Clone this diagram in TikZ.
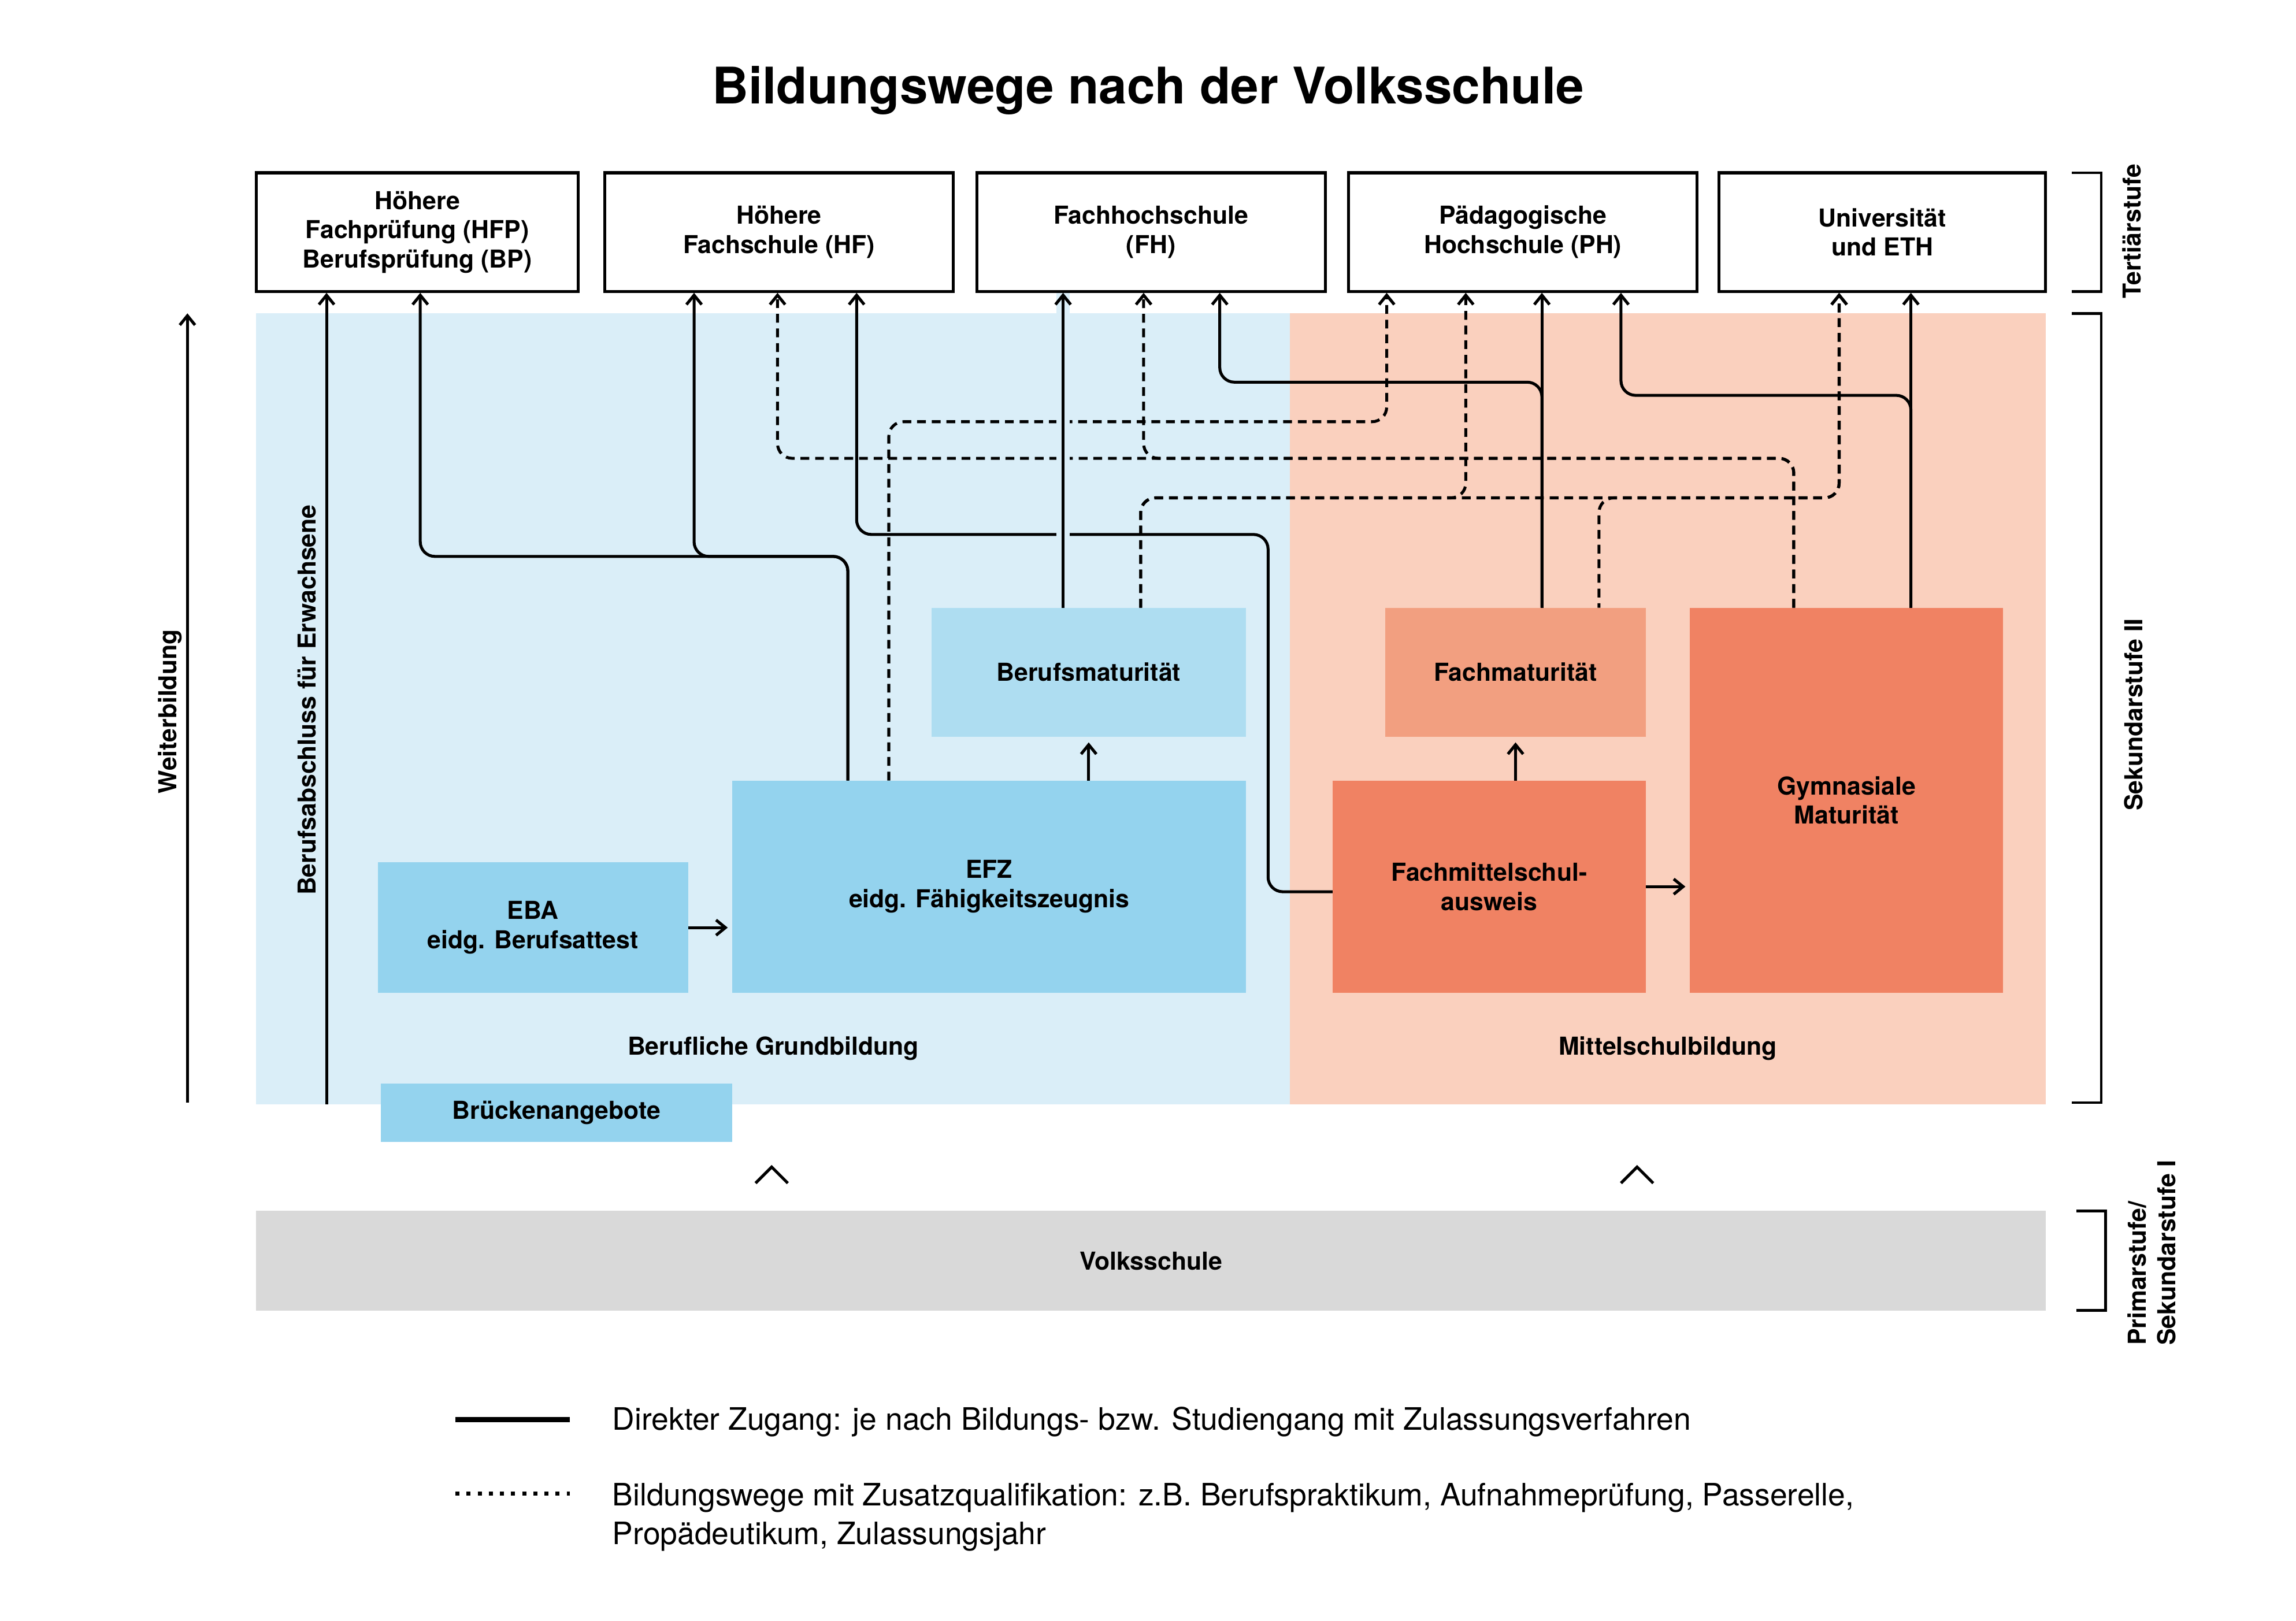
\documentclass[tikz,border=0pt]{standalone}
\usepackage{fontspec}
\setmainfont{TeX Gyre Heros}
\setsansfont{TeX Gyre Heros}
\usetikzlibrary{positioning,arrows.meta}
\definecolor{blue100}{HTML}{DAEEF8}
\definecolor{blue200}{HTML}{AEDDF1}
\definecolor{blue300}{HTML}{94D3EE}
\definecolor{clay100}{HTML}{FAD0BE}
\definecolor{clay300}{HTML}{F29F80}
\definecolor{clay400}{HTML}{F08263}
\definecolor{grey200}{HTML}{D9D9D9}
\newcommand{\lblfont}{\sffamily\bfseries\fontsize{12}{14.2}\selectfont}
\tikzset{
  tert/.style  ={draw=black, line width=0.5mm, fill=white, align=center,
                 inner sep=0pt, minimum height=20.25mm, font=\lblfont},
  fld/.style   ={inner sep=0pt, outer sep=0pt, align=center, font=\lblfont},
  ar/.style    ={-{Straight Barb[length=1.6mm,width=2.6mm]}, line width=0.5mm,
                 rounded corners=2.5mm},
  ard/.style   ={ar, dash pattern=on 1.5mm off 1mm},
  halo/.style  ={preaction={draw=#1, line width=2.25mm, -}},
  brk/.style   ={line width=0.45mm},
  side/.style  ={rotate=90, font=\lblfont, inner sep=0pt},
  leg/.style   ={font=\sffamily\fontsize{15}{18.8}\selectfont, align=left,
                 inner sep=0pt}
}

\begin{document}
\begin{tikzpicture}[x=0.25mm, y=-0.25mm]
\useasboundingbox (0,0) rectangle (1568,1107);
\node[font=\sffamily\bfseries\fontsize{24.5}{28}\selectfont, anchor=base]
  (title) at (784,71) {Bildungswege nach der Volksschule};

% Hintergruende
\fill[blue100] (175,214) rectangle (881,754);
\fill[clay100] (881,214) rectangle (1397,754);

% Tertiaerstufe
\node[tert, minimum width=55mm]    (hfp) at (285,158.5)
  {Höhere\\Fachprüfung (HFP)\\Berufsprüfung (BP)};
\node[tert, minimum width=59.5mm]  (hf)  at (532,158.5) {Höhere\\Fachschule (HF)};
\node[tert, minimum width=59.5mm]  (fh)  at (786,158.5) {Fachhochschule\\(FH)};
\node[tert, minimum width=59.5mm]  (ph)  at (1040,158.5) {Pädagogische\\Hochschule (PH)};
\node[tert, minimum width=55.75mm] (uni) at (1285.5,158.5) {Universität\\und ETH};

% Sekundarstufe II
\node[fld, fill=blue200, minimum width=53.75mm, minimum height=22mm]
  (bm) at (743.5,459) {Berufsmaturität};
\node[fld, fill=blue300, minimum width=87.75mm, minimum height=36.25mm]
  (efz) at (675.5,605.5) {EFZ\\eidg. Fähigkeitszeugnis};
\node[fld, fill=blue300, minimum width=53mm, minimum height=22.25mm]
  (eba) at (364,633.5) {EBA\\eidg. Berufsattest};
\node[fld, fill=blue300, minimum width=60mm, minimum height=10mm]
  (bruecke) at (380,760) {Brückenangebote};
\node[fld, fill=clay300, minimum width=44.5mm, minimum height=22mm]
  (fm) at (1035,459) {Fachmaturität};
\node[fld, fill=clay400, minimum width=53.5mm, minimum height=36.25mm]
  (fms) at (1017,605.5) {Fachmittelschul-\\ausweis};
\node[fld, fill=clay400, minimum width=53.5mm, minimum height=65.75mm]
  (gym) at (1261,546.5) {Gymnasiale\\Maturität};
\node[fld] (bg)  at (528,716)  {Berufliche Grundbildung};
\node[fld] (msb) at (1139,716) {Mittelschulbildung};

% Volksschule
\node[fld, fill=grey200, minimum width=305.5mm, minimum height=17mm]
  (vs) at (786,861) {Volksschule};
\draw[line width=0.5mm] (516,808) -- (527,797) -- (538,808);
\draw[line width=0.5mm] (1107,808) -- (1118,797) -- (1129,808);

% Seitenbeschriftung
\node[side] (wbl) at (116,486)   {Weiterbildung};
\node[side] (bae) at (209.5,478) {Berufsabschluss für Erwachsene};
\node[side] (ts)  at (1456,158)  {Tertiärstufe};
\node[side] (s2)  at (1457,488)  {Sekundarstufe II};
\node[side, align=left, anchor=west] (s1) at (1469.5,919)
  {Primarstufe/\\Sekundarstufe I};
\draw[brk] (1415,118) -| (1435,199) -- (1415,199);
\draw[brk] (1415,214) -| (1435,753) -- (1415,753);
\draw[brk] (1418,827) -| (1438,895) -- (1418,895);

\coordinate (wb0) at (128,753);
\coordinate (wb1) at (128,214);
\draw[ar] (wb0) -- (wb1);
\coordinate (bae0) at (223,754);
\draw[ar] (bae0) -- (hfp.south -| bae0);

% direkter Zugang
\draw[ar] (efz.north -| 579,0) |- (287,380) -- (hfp.south -| 287,0);
\draw[ar] (efz.north -| 579,0) |- (474,380) -- (hf.south -| 474,0);
\draw[ar] (fms.west |- 0,609) -| (866,365) -| (hf.south -| 585,0);
\draw[ar] (fm.north -| 1053,0) |- (833,261) -- (fh.south -| 833,0);
\draw[ar] (fm.north -| 1053,0) -- (ph.south -| 1053,0);
\draw[ar] (gym.north -| 1305,0) |- (1107,270) -- (ph.south -| 1107,0);
\draw[ar] (gym.north -| 1305,0) -- (uni.south -| 1305,0);

% mit Zusatzqualifikation
\draw[ard] (efz.north -| 607,0) |- (947,288) -- (ph.south -| 947,0);
\draw[ard] (gym.north -| 1225,0) |- (531,313) -- (hf.south -| 531,0);
\draw[ard] (gym.north -| 1225,0) |- (781,313) -- (fh.south -| 781,0);
\draw[ard] (bm.north -| 779,0) |- (1001,340) -- (ph.south -| 1001,0);
\draw[ard] (bm.north -| 779,0) |- (1256,340) -- (uni.south -| 1256,0);
\draw[ard, dash phase=0.75mm] (fm.north -| 1092,0) |- (1256,340)
  -- (uni.south -| 1256,0);
\draw[ar, halo=blue100] (bm.north -| 726,0) -- (fh.south -| 726,0);

% kurze Pfeile
\draw[ar, shorten >=0.75mm] (eba.east) -- (efz.west |- eba.east);
\draw[ar, shorten >=1mm] (efz.north -| bm.south) -- (bm.south);
\draw[ar, shorten >=1mm] (fms.north -| fm.south) -- (fm.south);
\draw[ar, shorten >=0.75mm] (fms.east) -- (gym.west |- fms.east);

% Legende
\draw[line width=0.85mm] (311,969.5) -- (389,969.5);
\draw[line width=0.65mm, dash pattern=on 0.7mm off 1.2mm] (311,1020) -- (389,1020);
\node[leg, anchor=base west] (leg1) at (418,976.5)
  {Direkter Zugang: je nach Bildungs- bzw. Studiengang mit Zulassungsverfahren};
\node[leg, anchor=north west] (leg2) at (418,1012.5)
  {Bildungswege mit Zusatzqualifikation: z.B. Berufspraktikum, Aufnahmeprüfung, Passerelle,\\
   Propädeutikum, Zulassungsjahr};
\end{tikzpicture}
\end{document}
